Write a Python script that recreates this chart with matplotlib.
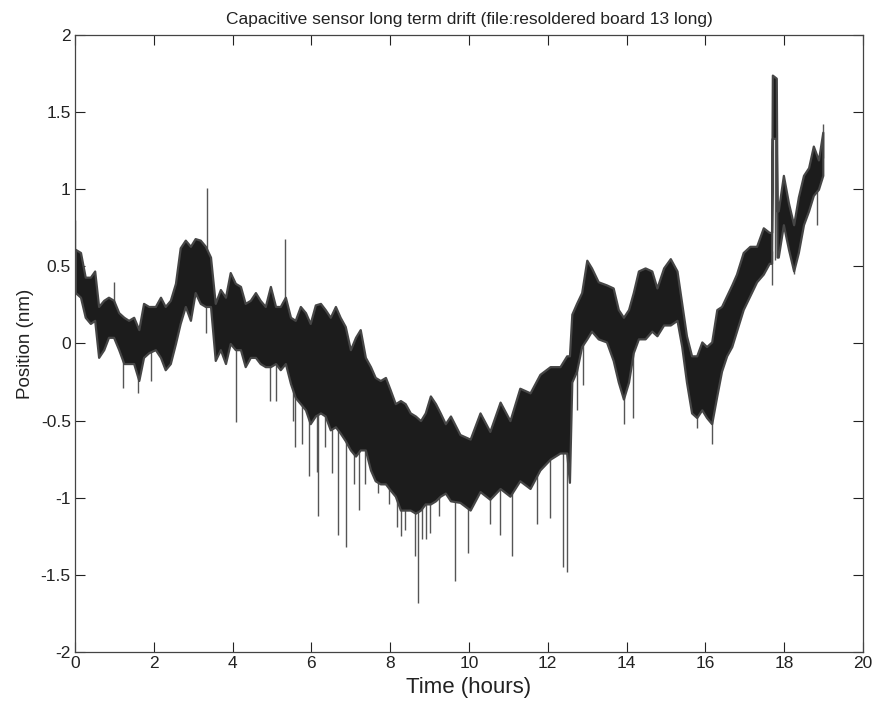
import matplotlib
matplotlib.use("Agg")
import matplotlib.pyplot as plt

plt.rcParams['font.family'] = ['Liberation Sans', 'DejaVu Sans']

# Band of the drift record: time (hours), upper and lower position (nm)
t_hours = [0.01, 0.14, 0.26, 0.39, 0.50, 0.60, 0.73, 0.85, 0.98, 1.11, 1.24, 1.36,
           1.49, 1.62, 1.74, 1.87, 2.04, 2.17, 2.29, 2.42, 2.55, 2.67, 2.80, 2.93,
           3.05, 3.18, 3.31, 3.44, 3.56, 3.69, 3.82, 3.94, 4.07, 4.20, 4.32, 4.45,
           4.58, 4.70, 4.83, 4.96, 5.09, 5.21, 5.34, 5.47, 5.59, 5.72, 5.85, 5.97,
           6.10, 6.23, 6.35, 6.48, 6.61, 6.73, 6.86, 6.99, 7.12, 7.24, 7.37, 7.50,
           7.62, 7.75, 7.88, 8.00, 8.13, 8.26, 8.38, 8.51, 8.64, 8.77, 8.89, 9.02,
           9.15, 9.27, 9.40, 9.53, 9.77, 10.03, 10.28, 10.53, 10.79, 11.04, 11.29,
           11.55, 11.80, 12.06, 12.31, 12.48, 12.55, 12.61, 12.73, 12.86, 12.99,
           13.11, 13.28, 13.49, 13.66, 13.79, 13.92, 14.05, 14.17, 14.30, 14.47,
           14.64, 14.77, 14.94, 15.11, 15.28, 15.40, 15.52, 15.65, 15.78, 15.91,
           16.03, 16.16, 16.29, 16.41, 16.54, 16.67, 16.79, 16.96, 17.13, 17.30,
           17.47, 17.62, 17.68, 17.70, 17.80, 17.82, 17.85, 17.98, 18.11, 18.24,
           18.36, 18.49, 18.62, 18.74, 18.87, 18.98]
upper_nm = [0.61, 0.59, 0.43, 0.43, 0.47, 0.24, 0.28, 0.30, 0.28, 0.20, 0.17, 0.15,
            0.17, 0.09, 0.26, 0.24, 0.24, 0.30, 0.24, 0.28, 0.39, 0.62, 0.67, 0.63,
            0.68, 0.67, 0.63, 0.56, 0.26, 0.35, 0.30, 0.46, 0.39, 0.37, 0.26, 0.28,
            0.33, 0.28, 0.24, 0.37, 0.24, 0.24, 0.30, 0.17, 0.15, 0.24, 0.20, 0.13,
            0.25, 0.26, 0.22, 0.17, 0.24, 0.17, 0.11, -0.04, 0.04, 0.09, -0.09,
            -0.15, -0.22, -0.24, -0.22, -0.30, -0.39, -0.37, -0.39, -0.45, -0.47,
            -0.50, -0.45, -0.34, -0.39, -0.45, -0.52, -0.47, -0.59, -0.62, -0.45,
            -0.57, -0.38, -0.50, -0.29, -0.32, -0.20, -0.15, -0.15, -0.08, -0.08,
            0.19, 0.26, 0.33, 0.54, 0.49, 0.40, 0.38, 0.36, 0.22, 0.17, 0.22, 0.33,
            0.47, 0.49, 0.47, 0.36, 0.49, 0.55, 0.47, 0.26, 0.05, -0.08, -0.08, 0.01,
            -0.02, 0.01, 0.22, 0.24, 0.31, 0.38, 0.45, 0.59, 0.63, 0.63, 0.75, 0.72,
            0.72, 1.74, 1.72, 0.86, 0.86, 1.09, 0.91, 0.77, 0.95, 1.09, 1.14, 1.28,
            1.19, 1.37]
lower_nm = [0.33, 0.30, 0.17, 0.13, 0.15, -0.09, -0.04, 0.04, 0.04, -0.04, -0.13,
            -0.13, -0.13, -0.24, -0.09, -0.06, -0.04, -0.09, -0.17, -0.13, 0.00,
            0.13, 0.24, 0.15, 0.33, 0.26, 0.24, 0.24, -0.11, -0.04, -0.13, 0.00,
            -0.04, -0.04, -0.15, -0.09, -0.09, -0.13, -0.15, -0.15, -0.13, -0.17,
            -0.13, -0.26, -0.35, -0.39, -0.43, -0.52, -0.47, -0.45, -0.47, -0.56,
            -0.54, -0.58, -0.63, -0.69, -0.73, -0.69, -0.69, -0.82, -0.89, -0.91,
            -0.91, -0.95, -0.99, -1.08, -1.08, -1.08, -1.10, -1.08, -1.04, -1.04,
            -1.02, -0.99, -0.97, -1.02, -1.03, -1.08, -0.96, -1.01, -0.94, -0.99,
            -0.89, -0.94, -0.82, -0.75, -0.71, -0.71, -0.90, -0.25, -0.18, -0.02,
            0.03, 0.08, 0.03, 0.01, -0.11, -0.25, -0.36, -0.25, -0.06, 0.03, 0.03,
            0.08, 0.05, 0.12, 0.12, 0.15, -0.02, -0.25, -0.45, -0.48, -0.43, -0.48,
            -0.52, -0.34, -0.18, -0.08, -0.02, 0.08, 0.22, 0.31, 0.40, 0.45, 0.52,
            0.52, 1.33, 1.33, 0.56, 0.56, 0.77, 0.61, 0.47, 0.59, 0.77, 0.86, 0.96,
            1.00, 1.09]

# Isolated glitches: time (hours), tip position (nm), and where each leaves the band
spike_t = [0.01, 0.98, 3.36, 5.34, 18.98,
           1.21, 1.59, 1.93, 3.32, 4.08, 4.94, 5.10, 5.53, 5.59, 5.76, 5.95, 6.14,
           6.18, 6.35, 6.52, 6.67, 6.88, 7.07, 7.22, 7.37, 7.68, 7.96, 8.17, 8.28,
           8.38, 8.64, 8.71, 8.81, 8.91, 9.02, 9.23, 9.64, 9.98, 10.53, 10.79,
           11.10, 11.72, 12.06, 12.39, 12.49, 12.73, 12.90, 13.93, 14.17, 15.78,
           16.16, 17.68, 17.76, 18.24, 18.83]
spike_tip = [0.80, 0.40, 1.01, 0.68, 1.42,
             -0.29, -0.32, -0.24, 0.07, -0.51, -0.37, -0.37, -0.50, -0.67, -0.65,
             -0.86, -0.83, -1.12, -0.67, -0.84, -1.24, -1.32, -0.91, -1.08, -0.91,
             -0.97, -1.04, -1.19, -1.25, -1.21, -1.38, -1.68, -1.27, -1.27, -1.23,
             -1.12, -1.54, -1.36, -1.17, -1.24, -1.38, -1.17, -1.13, -1.45, -1.48,
             -0.43, -0.27, -0.52, -0.48, -0.55, -0.65, 0.38, 0.54, 0.45, 0.77]
spike_base = [0.50, 0.20, 0.50, 0.20, 1.20,
              0.00, -0.05, 0.00, 0.40, 0.10, 0.00, 0.00, -0.10, -0.10, -0.20,
              -0.30, -0.30, -0.30, -0.30, -0.40, -0.40, -0.40, -0.50, -0.50, -0.50,
              -0.70, -0.80, -0.80, -0.80, -0.80, -0.90, -0.90, -0.90, -0.90, -0.90,
              -0.90, -0.90, -0.90, -0.90, -0.80, -0.80, -0.70, -0.60, -0.60, -0.60,
              -0.10, 0.10, -0.20, 0.00, -0.30, -0.30, 0.60, 1.40, 0.60, 1.00]

x_ticks = [0, 2, 4, 6, 8, 10, 12, 14, 16, 18, 20]
y_ticks = [-2, -1.5, -1, -0.5, 0, 0.5, 1, 1.5, 2]
y_tick_labels = ['-2', '-1.5', '-1', '-0.5', '0', '0.5', '1', '1.5', '2']

fig = plt.figure(figsize=(8.77, 7.07), dpi=100)
ax = fig.add_axes([0.0855, 0.0778, 0.8985, 0.8727])

trace = '#1c1c1c'
ax.vlines(spike_t, spike_base, spike_tip, color='#555555', linewidth=1.0, zorder=2)
ax.fill_between(t_hours, lower_nm, upper_nm, facecolor=trace, linewidth=1.6,
                edgecolor='#464646', zorder=3)

ax.set_xlim(0, 20)
ax.set_ylim(-2, 2)
ax.set_xticks(x_ticks)
ax.set_xticklabels([str(v) for v in x_ticks])
ax.set_yticks(y_ticks)
ax.set_yticklabels(y_tick_labels)
ax.tick_params(direction='in', length=7, width=0.8, top=True, right=True,
               labelsize=12.5, colors='#222222', pad=3)
for s in ax.spines.values():
    s.set_linewidth(0.9)
    s.set_color('#444444')

ax.set_xlabel('Time (hours)', fontsize=16, color='#222222', labelpad=4)
ax.set_ylabel('Position (nm)', fontsize=13.5, color='#222222', labelpad=5)
ax.set_title('Capacitive sensor long term drift (file:resoldered board 13 long)',
             fontsize=12.5, color='#222222', pad=8)

fig.savefig('out.png', dpi=100)
